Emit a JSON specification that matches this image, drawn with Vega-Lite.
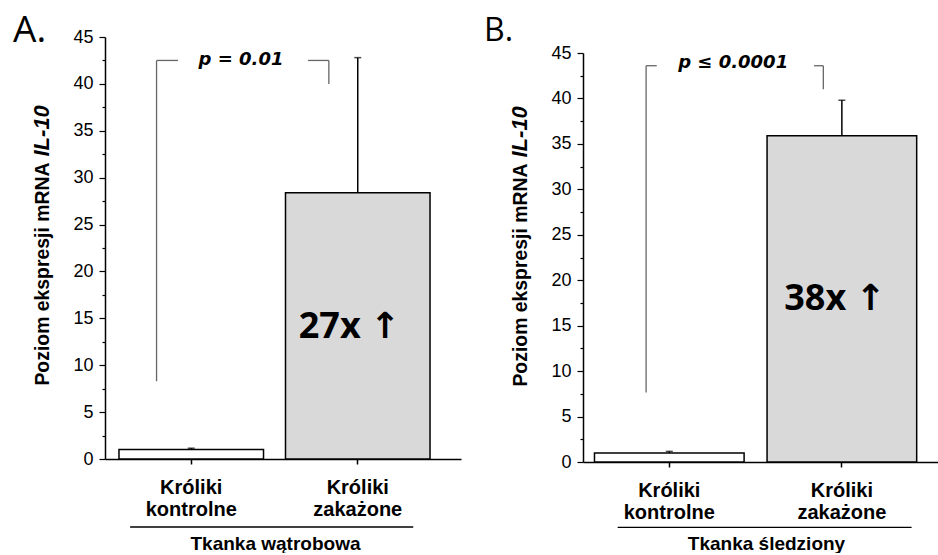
{
  "$schema": "https://vega.github.io/schema/vega-lite/v6.json",
  "background": "white",
  "padding": {"left": 13, "top": 12, "right": 0, "bottom": 0},
  "columns": 2,
  "align": "none",
  "spacing": 23,
  "config": {
    "view": {"stroke": null},
    "font": "Liberation Sans",
    "axis": {"grid": false, "domainColor": "black", "tickColor": "black", "labelColor": "black", "titleColor": "black", "labelFont": "Liberation Sans", "titleFont": "Liberation Sans"}
  },
  "concat": [
    {
      "width": 356,
      "height": 422,
      "title": {"text": "A.", "anchor": "start", "frame": "bounds", "font": "Open Sans", "fontSize": 37, "fontWeight": "normal", "color": "black", "offset": 0, "baseline": "alphabetic", "dx": -17, "dy": 51},
      "resolve": {"axis": {"y": "independent"}},
      "layer": [
        {
          "data": {"values": [
            {"group": "Króliki kontrolne", "mean": 1.0, "upper": 1.15},
            {"group": "Króliki zakażone", "mean": 28.4, "upper": 42.8}
          ]},
          "mark": {"type": "bar", "stroke": "black", "strokeWidth": 1.5},
          "encoding": {
            "x": {"field": "group", "type": "nominal",
              "scale": {"domain": ["Króliki kontrolne", "Króliki zakażone"], "paddingInner": 0.132, "paddingOuter": 0.135, "align": 0.311},
              "axis": {"title": "Tkanka wątrobowa", "labelExpr": "split(datum.label, ' ')", "labelAngle": 0, "labelFontSize": 20, "labelFontWeight": "bold", "labelLineHeight": 22, "labelPadding": 13, "tickSize": 5, "tickWidth": 1.5, "domainWidth": 1.5, "titleFontSize": 19, "titleFontWeight": "bold", "titleX": 170, "titleY": 90, "titleBaseline": "alphabetic", "titleAlign": "center", "titleAngle": 0}},
            "y": {"field": "mean", "type": "quantitative",
              "scale": {"domain": [0, 45], "nice": false, "zero": false},
              "axis": {"values": [0, 2.5, 5, 7.5, 10, 12.5, 15, 17.5, 20, 22.5, 25, 27.5, 30, 32.5, 35, 37.5, 40, 42.5, 45],
                "labelExpr": "datum.value % 5 === 0 ? datum.label : ''", "labelOverlap": false,
                "tickSize": {"condition": {"test": "datum.value % 5 !== 0", "value": 3}, "value": 6},
                "tickWidth": 1.2, "domainWidth": 1.5, "labelFontSize": 18, "labelPadding": 6,
                "title": "Poziom ekspresji mRNA", "titleFontSize": 19.4, "titleFontWeight": "bold", "titleAngle": 270,
                "titleX": -57, "titleY": 125, "titleAlign": "right", "titleBaseline": "alphabetic"}},
            "color": {"field": "group", "type": "nominal", "scale": {"range": ["#ffffff", "#d9d9d9"]}, "legend": null}
          }
        },
        {
          "data": {"values": [
            {"group": "Króliki kontrolne", "mean": 1.0, "upper": 1.15},
            {"group": "Króliki zakażone", "mean": 28.4, "upper": 42.8}
          ]},
          "mark": {"type": "rule", "color": "black", "strokeWidth": 1.5},
          "encoding": {
            "x": {"field": "group", "type": "nominal"},
            "y": {"field": "mean", "type": "quantitative", "axis": null},
            "y2": {"field": "upper"}
          }
        },
        {
          "data": {"values": [
            {"group": "Króliki kontrolne", "upper": 1.15},
            {"group": "Króliki zakażone", "upper": 42.8}
          ]},
          "mark": {"type": "tick", "color": "black", "size": 7, "thickness": 1.5},
          "encoding": {
            "x": {"field": "group", "type": "nominal"},
            "y": {"field": "upper", "type": "quantitative", "axis": null}
          }
        },
        {
          "data": {"values": [{"group": "Króliki kontrolne", "low": 8.3, "high": 42.5}]},
          "mark": {"type": "rule", "color": "#666666", "strokeWidth": 1.3},
          "encoding": {
            "x": {"field": "group", "type": "nominal", "bandPosition": 0.26},
            "y": {"field": "low", "type": "quantitative", "axis": null},
            "y2": {"field": "high"}
          }
        },
        {
          "data": {"values": [{"group": "Króliki zakażone", "low": 40.0, "high": 42.5}]},
          "mark": {"type": "rule", "color": "#666666", "strokeWidth": 1.3},
          "encoding": {
            "x": {"field": "group", "type": "nominal", "bandPosition": 0.30},
            "y": {"field": "low", "type": "quantitative", "axis": null},
            "y2": {"field": "high"}
          }
        },
        {
          "data": {"values": [{"group": "Króliki kontrolne", "y": 42.5}]},
          "mark": {"type": "rule", "color": "#666666", "strokeWidth": 1.3},
          "encoding": {
            "x": {"field": "group", "type": "nominal", "bandPosition": 0.26},
            "x2": {"field": "group", "bandPosition": 0.408},
            "y": {"field": "y", "type": "quantitative", "axis": null}
          }
        },
        {
          "data": {"values": [{"group": "Króliki zakażone", "y": 42.5}]},
          "mark": {"type": "rule", "color": "#666666", "strokeWidth": 1.3},
          "encoding": {
            "x": {"field": "group", "type": "nominal", "bandPosition": 0.156},
            "x2": {"field": "group", "bandPosition": 0.30},
            "y": {"field": "y", "type": "quantitative", "axis": null}
          }
        },
        {
          "data": {"values": [{"group": "Króliki kontrolne", "y": 42.5, "label": "p = 0.01"}]},
          "mark": {"type": "text", "font": "DejaVu Sans", "fontSize": 18, "fontWeight": "bold", "fontStyle": "italic", "color": "black", "baseline": "middle", "align": "center"},
          "encoding": {
            "x": {"field": "group", "type": "nominal", "bandPosition": 0.844},
            "y": {"field": "y", "type": "quantitative", "axis": null},
            "text": {"field": "label"}
          }
        },
        {
          "data": {"values": [{"group": "Króliki zakażone", "y": 14.1, "label": "27x ↑"}]},
          "mark": {"type": "text", "font": "Open Sans, DejaVu Sans", "fontSize": 36, "fontWeight": "bold", "color": "black", "baseline": "middle", "align": "center"},
          "encoding": {
            "x": {"field": "group", "type": "nominal", "bandPosition": 0.443},
            "y": {"field": "y", "type": "quantitative",
              "axis": {"orient": "left", "domain": false, "ticks": false, "labels": false, "grid": false,
                "title": "IL-10", "titleFontSize": 22, "titleFontWeight": "bold", "titleFontStyle": "italic", "titleAngle": 270,
                "titleX": -57, "titleY": 119, "titleAlign": "left", "titleBaseline": "alphabetic"}},
            "text": {"field": "label"}
          }
        },
        {
          "data": {"values": [{"from": "Króliki kontrolne", "to": "Króliki zakażone", "y": -7.25}]},
          "mark": {"type": "rule", "color": "black", "strokeWidth": 1.3},
          "encoding": {
            "x": {"field": "from", "type": "nominal", "bandPosition": 0.077},
            "x2": {"field": "to", "bandPosition": 0.884},
            "y": {"field": "y", "type": "quantitative", "axis": null}
          }
        }
      ]
    },
    {
      "width": 355,
      "height": 425,
      "title": {"text": "B.", "anchor": "start", "frame": "bounds", "font": "Open Sans", "fontSize": 32, "fontWeight": "normal", "color": "black", "offset": 0, "baseline": "alphabetic", "dx": -24, "dy": 36},
      "resolve": {"axis": {"y": "independent"}},
      "layer": [
        {
          "data": {"values": [
            {"group": "Króliki kontrolne", "mean": 1.0, "upper": 1.17},
            {"group": "Króliki zakażone", "mean": 35.9, "upper": 39.8}
          ]},
          "mark": {"type": "bar", "stroke": "black", "strokeWidth": 1.5},
          "encoding": {
            "x": {"field": "group", "type": "nominal",
              "scale": {"domain": ["Króliki kontrolne", "Króliki zakażone"], "paddingInner": 0.133, "paddingOuter": 0.095, "align": 0.35},
              "axis": {"title": "Tkanka śledziony", "labelExpr": "split(datum.label, ' ')", "labelAngle": 0, "labelFontSize": 20, "labelFontWeight": "bold", "labelLineHeight": 22, "labelPadding": 13, "tickSize": 5, "tickWidth": 1.5, "domainWidth": 1.5, "titleFontSize": 19, "titleFontWeight": "bold", "titleX": 183, "titleY": 87, "titleBaseline": "alphabetic", "titleAlign": "center", "titleAngle": 0}},
            "y": {"field": "mean", "type": "quantitative",
              "scale": {"domain": [0, 45], "nice": false, "zero": false, "range": [425, 16]},
              "axis": {"values": [0, 2.5, 5, 7.5, 10, 12.5, 15, 17.5, 20, 22.5, 25, 27.5, 30, 32.5, 35, 37.5, 40, 42.5, 45],
                "labelExpr": "datum.value % 5 === 0 ? datum.label : ''", "labelOverlap": false,
                "tickSize": {"condition": {"test": "datum.value % 5 !== 0", "value": 3}, "value": 6},
                "tickWidth": 1.2, "domainWidth": 1.5, "labelFontSize": 18, "labelPadding": 6,
                "title": "Poziom ekspresji mRNA", "titleFontSize": 19.4, "titleFontWeight": "bold", "titleAngle": 270,
                "titleX": -57, "titleY": 126, "titleAlign": "right", "titleBaseline": "alphabetic"}},
            "color": {"field": "group", "type": "nominal", "scale": {"range": ["#ffffff", "#d9d9d9"]}, "legend": null}
          }
        },
        {
          "data": {"values": [
            {"group": "Króliki kontrolne", "mean": 1.0, "upper": 1.17},
            {"group": "Króliki zakażone", "mean": 35.9, "upper": 39.8}
          ]},
          "mark": {"type": "rule", "color": "black", "strokeWidth": 1.5},
          "encoding": {
            "x": {"field": "group", "type": "nominal"},
            "y": {"field": "mean", "type": "quantitative", "axis": null},
            "y2": {"field": "upper"}
          }
        },
        {
          "data": {"values": [
            {"group": "Króliki kontrolne", "upper": 1.17},
            {"group": "Króliki zakażone", "upper": 39.8}
          ]},
          "mark": {"type": "tick", "color": "black", "size": 7, "thickness": 1.5},
          "encoding": {
            "x": {"field": "group", "type": "nominal"},
            "y": {"field": "upper", "type": "quantitative", "axis": null}
          }
        },
        {
          "data": {"values": [{"group": "Króliki kontrolne", "low": 7.66, "high": 43.6}]},
          "mark": {"type": "rule", "color": "#666666", "strokeWidth": 1.3},
          "encoding": {
            "x": {"field": "group", "type": "nominal", "bandPosition": 0.345},
            "y": {"field": "low", "type": "quantitative", "axis": null},
            "y2": {"field": "high"}
          }
        },
        {
          "data": {"values": [{"group": "Króliki zakażone", "low": 41.0, "high": 43.6}]},
          "mark": {"type": "rule", "color": "#666666", "strokeWidth": 1.3},
          "encoding": {
            "x": {"field": "group", "type": "nominal", "bandPosition": 0.376},
            "y": {"field": "low", "type": "quantitative", "axis": null},
            "y2": {"field": "high"}
          }
        },
        {
          "data": {"values": [{"group": "Króliki kontrolne", "y": 43.6}]},
          "mark": {"type": "rule", "color": "#666666", "strokeWidth": 1.3},
          "encoding": {
            "x": {"field": "group", "type": "nominal", "bandPosition": 0.345},
            "x2": {"field": "group", "bandPosition": 0.416},
            "y": {"field": "y", "type": "quantitative", "axis": null}
          }
        },
        {
          "data": {"values": [{"group": "Króliki zakażone", "y": 43.6}]},
          "mark": {"type": "rule", "color": "#666666", "strokeWidth": 1.3},
          "encoding": {
            "x": {"field": "group", "type": "nominal", "bandPosition": 0.314},
            "x2": {"field": "group", "bandPosition": 0.376},
            "y": {"field": "y", "type": "quantitative", "axis": null}
          }
        },
        {
          "data": {"values": [{"group": "Króliki kontrolne", "y": 43.9, "label": "p ≤ 0.0001"}]},
          "mark": {"type": "text", "font": "DejaVu Sans", "fontSize": 18, "fontWeight": "bold", "fontStyle": "italic", "color": "black", "baseline": "middle", "align": "center"},
          "encoding": {
            "x": {"field": "group", "type": "nominal", "bandPosition": 0.927},
            "y": {"field": "y", "type": "quantitative", "axis": null},
            "text": {"field": "label"}
          }
        },
        {
          "data": {"values": [{"group": "Króliki zakażone", "y": 17.9, "label": "38x ↑"}]},
          "mark": {"type": "text", "font": "Open Sans, DejaVu Sans", "fontSize": 36, "fontWeight": "bold", "color": "black", "baseline": "middle", "align": "center"},
          "encoding": {
            "x": {"field": "group", "type": "nominal", "bandPosition": 0.454},
            "y": {"field": "y", "type": "quantitative",
              "axis": {"orient": "left", "domain": false, "ticks": false, "labels": false, "grid": false,
                "title": "IL-10", "titleFontSize": 22, "titleFontWeight": "bold", "titleFontStyle": "italic", "titleAngle": 270,
                "titleX": -57, "titleY": 120, "titleAlign": "left", "titleBaseline": "alphabetic"}},
            "text": {"field": "label"}
          }
        },
        {
          "data": {"values": [{"from": "Króliki kontrolne", "to": "Króliki zakażone", "y": -7.2}]},
          "mark": {"type": "rule", "color": "black", "strokeWidth": 1.3},
          "encoding": {
            "x": {"field": "from", "type": "nominal", "bandPosition": 0.155},
            "x2": {"field": "to", "bandPosition": 0.966},
            "y": {"field": "y", "type": "quantitative", "axis": null}
          }
        }
      ]
    }
  ]
}
